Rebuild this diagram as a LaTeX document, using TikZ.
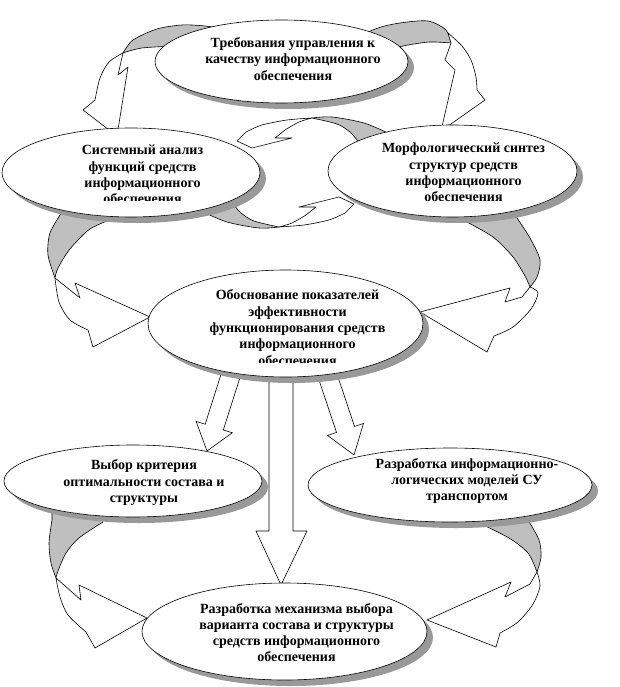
\documentclass[tikz,border=0pt]{standalone}
\usepackage{fontspec}
\setmainfont{Liberation Serif}
\usetikzlibrary{shapes.geometric,shadows}
\begin{document}
\begin{tikzpicture}[x=1pt,y=-1pt,
  ell/.style={ellipse, draw=black, line width=0.6pt, fill=white, inner sep=0pt,
    drop shadow={shadow xshift=6pt, shadow yshift=-6pt, opacity=1, fill=black!40}},
  lbl/.style={align=center, font=\fontsize{14}{16.3}\selectfont\bfseries, inner sep=0pt},
  ribbon/.style={draw=black, line width=0.6pt, fill=white, line join=round},
  back/.style={draw=black, line width=0.6pt, fill=gray!50, line join=round},
  blockarrow/.style={draw=black, line width=0.6pt, fill=white, line join=miter}]
\useasboundingbox (0,0) rectangle (620,687);
\fill[white] (0,0) rectangle (620,687);

% ---- curved ribbon arrows (behind the ellipses) ----
% A: top-left
\filldraw[back] plot[smooth] coordinates {(123,53) (133,40) (157,29) (182,25) (205,26) (230,30)} -- (230,45) -- plot[smooth] coordinates {(175,46) (142,48) (123,53)} -- cycle;
\filldraw[ribbon] plot[smooth] coordinates {(123,53) (109,62) (100,78) (95,100)} -- (83,110) -- (117,136) -- (128,67) -- (118,75) -- cycle;
% B: top-right
\filldraw[back] plot[smooth] coordinates {(355,38) (378,28) (400,23) (428,21) (446,30) (451,43)} -- plot[smooth] coordinates {(451,43) (430,42) (408,45) (385,50)} -- cycle;
\filldraw[ribbon] plot[smooth] coordinates {(448,33) (462,46) (471,60) (476,77) (477,90)} -- (485,100) -- (441,131) -- (455,70) -- (445,60) -- (451,43) -- cycle;
% C: middle-left
\filldraw[back] (62,205) -- (120,205) -- plot[smooth] coordinates {(117,217) (90,229) (70,249) (58,268) (55,278)} -- plot[smooth] coordinates {(55,278) (48,255) (50,233) (62,212)} -- cycle;
\filldraw[ribbon] plot[smooth] coordinates {(55,278) (59,302) (70,320) (88,330)} -- (93,347) -- (150,317) -- (75,283) -- (80,298) -- cycle;
% D: middle-right
\filldraw[back] (460,210) -- (513,203) -- plot[smooth] coordinates {(513,212) (530,238) (540,260) (537,277) (530,287)} -- plot[smooth] coordinates {(530,287) (525,276) (513,257) (493,237) (463,220)} -- cycle;
\filldraw[ribbon] (530,287) -- (522,297) -- (505,302) -- (510,288) -- (420,312) -- (487,352) -- plot[smooth] coordinates {(494,336) (513,327) (531,309) (538,293) (530,287)} -- cycle;
% E: bottom-left
\filldraw[back] (52,505) -- (105,505) -- plot[smooth] coordinates {(103,522) (79,538) (66,553) (58,571) (56,578)} -- plot[smooth] coordinates {(56,578) (51,563) (49,543) (52,520)} -- cycle;
\filldraw[ribbon] plot[smooth] coordinates {(56,578) (60,597) (68,615) (86,632)} -- (95,648) -- (147,618) -- (79,585) -- (81,600) -- cycle;
% F: bottom-right
\filldraw[back] (478,512) -- (528,512) -- plot[smooth] coordinates {(528,520) (539,540) (541,557) (537,572)} -- plot[smooth] coordinates {(537,572) (528,553) (509,538) (479,523)} -- cycle;
\filldraw[ribbon] (537,572) -- (530,584) -- (505,597) -- (511,582) -- (427,620) -- (496,647) -- plot[smooth] coordinates {(500,633) (518,622) (533,604) (540,586) (537,572)} -- cycle;
% G/H: central swirl
\foreach \r in {0,180}{
\begin{scope}[rotate around={\r:(295.5,172.5)}]
\filldraw[back] plot[smooth] coordinates {(312,118) (332,117) (364,123) (390,134)} -- (398,150) -- (362,150) -- plot[smooth] coordinates {(357,140) (350,132) (337,124) (312,118)} -- cycle;
\filldraw[ribbon] plot[smooth] coordinates {(312,118) (287,120) (262,125) (246,132)} -- (237,141) -- (252,148) -- (292,138) -- (275,138) -- plot[smooth] coordinates {(285,130) (299,122) (312,118)} -- cycle;
\end{scope}}

% ---- block arrows ----
\filldraw[blockarrow] (223.9,365.1) -- (205.2,424.2) -- (196.1,421.4) -- (207,451) -- (232.3,432.8) -- (223.3,430.0) -- (242.1,370.9) -- cycle;
\filldraw[blockarrow] (316,371) -- (336.5,432.4) -- (327.5,435.4) -- (354,455) -- (363.5,423.4) -- (354.5,426.4) -- (334,365) -- cycle;
\filldraw[blockarrow] (269,372) -- (269,531) -- (256,531) -- (281,585) -- (307,531) -- (293,531) -- (293,372) -- cycle;

% ---- ellipses ----
\node[ell, minimum width=253pt, minimum height=83pt] (e1) at (281.5,61.5) {};
\node[ell, minimum width=258pt, minimum height=89pt] (e2) at (131,172.5) {};
\node[ell, minimum width=249pt, minimum height=92pt] (e3) at (452.5,171) {};
\node[ell, minimum width=275pt, minimum height=107pt] (e4) at (285.5,323.5) {};
\node[ell, minimum width=258pt, minimum height=72pt] (e5) at (133,481) {};
\node[ell, minimum width=284pt, minimum height=74pt] (e6) at (450,485) {};
\node[ell, minimum width=285pt, minimum height=97pt] (e7) at (284.5,631.5) {};

% ---- texts ----
\node[lbl] (t1) at (293,59) {Требования управления к\\качеству информационного\\обеспечения};
\begin{scope}
\clip (0,0) rectangle (620,200);
\node[lbl] (t2) at (142.5,174.5) {Системный анализ\\функций средств\\информационного\\обеспечения};
\end{scope}
\node[lbl] (t3) at (463.5,172.5) {Морфологический синтез\\структур средств\\информационного\\обеспечения};
\begin{scope}
\clip (0,0) rectangle (620,362);
\node[lbl] (t4) at (297.5,327.5) {Обоснование показателей\\эффективности\\функционирования средств\\информационного\\обеспечения};
\end{scope}
\node[lbl] (t5) at (144,482.5) {Выбор критерия\\оптимальности состава и\\структуры};
\node[lbl] (t6) at (467,481) {Разработка информационно-\\логических моделей СУ\\транспортом};
\node[lbl] (t7) at (296.5,632.5) {Разработка механизма выбора\\варианта состава и структуры\\средств информационного\\обеспечения};
\end{tikzpicture}
\end{document}
